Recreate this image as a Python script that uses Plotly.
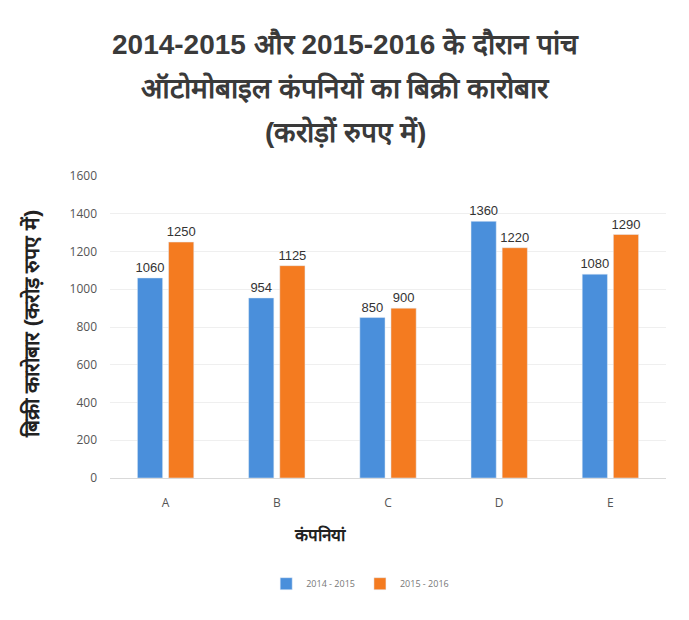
import plotly.graph_objects as go

categories = ["A", "B", "C", "D", "E"]
series_2014_15 = [1060, 954, 850, 1360, 1080]
series_2015_16 = [1250, 1125, 900, 1220, 1290]
series_names = ["2014 - 2015", "2015 - 2016"]
y_ticks = [0, 200, 400, 600, 800, 1000, 1200, 1400, 1600]

title_lines = ["2014-2015 और 2015-2016 के दौरान पांच",
               "ऑटोमोबाइल कंपनियों का बिक्री कारोबार",
               "(करोड़ों रुपए में)"]
x_title = "कंपनियां"
y_title = "बिक्री कारोबार (करोड़ रुपए में)"

label_font = dict(size=13, color="#333333", family="Liberation Sans Narrow, Liberation Sans")

fig = go.Figure()
fig.add_trace(go.Bar(
    x=categories, y=series_2014_15, name=series_names[0],
    marker_color="#4A8FDB",
    text=series_2014_15, textposition="outside", constraintext="none",
    textfont=label_font, cliponaxis=False,
))
fig.add_trace(go.Bar(
    x=categories, y=series_2015_16, name=series_names[1],
    marker_color="#F47B20",
    text=series_2015_16, textposition="outside", constraintext="none",
    textfont=label_font, cliponaxis=False,
))

# page is offset by 8px body margin; figure coords = screen - 8
W, H = 689, 620
plot_l, plot_r, plot_t, plot_b = 102, 658, 168, 470
pw, ph = plot_r - plot_l, plot_b - plot_t


def px_to_paper(x, y):
    return (x - plot_l) / pw, (plot_b - y) / ph


title_centers = [36, 80, 124]
for line, yc in zip(title_lines, title_centers):
    xp, yp = px_to_paper(337, yc)
    fig.add_annotation(
        text="<b>" + line + "</b>", xref="paper", yref="paper",
        x=xp, y=yp, xanchor="center", yanchor="middle", showarrow=False,
        font=dict(size=28, color="#3a3a3a", family="Liberation Sans Narrow, Liberation Sans"),
    )

xp, yp = px_to_paper(312, 527)
fig.add_annotation(
    text="<b>" + x_title + "</b>", xref="paper", yref="paper",
    x=xp, y=yp, xanchor="center", yanchor="middle", showarrow=False,
    font=dict(size=17, color="#222222", family="Liberation Sans Narrow, Liberation Sans"),
)
xp, yp = px_to_paper(23, 316)
fig.add_annotation(
    text="<b>" + y_title + "</b>", xref="paper", yref="paper",
    x=xp, y=yp, xanchor="center", yanchor="middle", showarrow=False, textangle=-90,
    font=dict(size=21, color="#222222", family="Liberation Sans Narrow, Liberation Sans"),
)

fig.update_layout(
    width=W, height=H,
    paper_bgcolor="white", plot_bgcolor="white",
    margin=dict(l=plot_l, r=W - plot_r, t=plot_t, b=H - plot_b),
    barmode="group", bargap=0.44, bargroupgap=0.19,
    xaxis=dict(
        tickfont=dict(size=12, color="#555555"),
        showline=True, linecolor="#D9D9D9", ticks="", ticklabelstandoff=14,
    ),
    yaxis=dict(
        range=[0, 1600], tickvals=y_ticks,
        tickfont=dict(size=12, color="#555555"),
        showgrid=True, gridcolor="#EFEFEF", zeroline=False, ticklabelstandoff=12,
    ),
    legend=dict(orientation="h", x=0.45, xanchor="center", y=-0.35, yanchor="middle",
                font=dict(size=9, color="#777777"), itemwidth=30),
    showlegend=True,
)

fig.write_html("out.html")
